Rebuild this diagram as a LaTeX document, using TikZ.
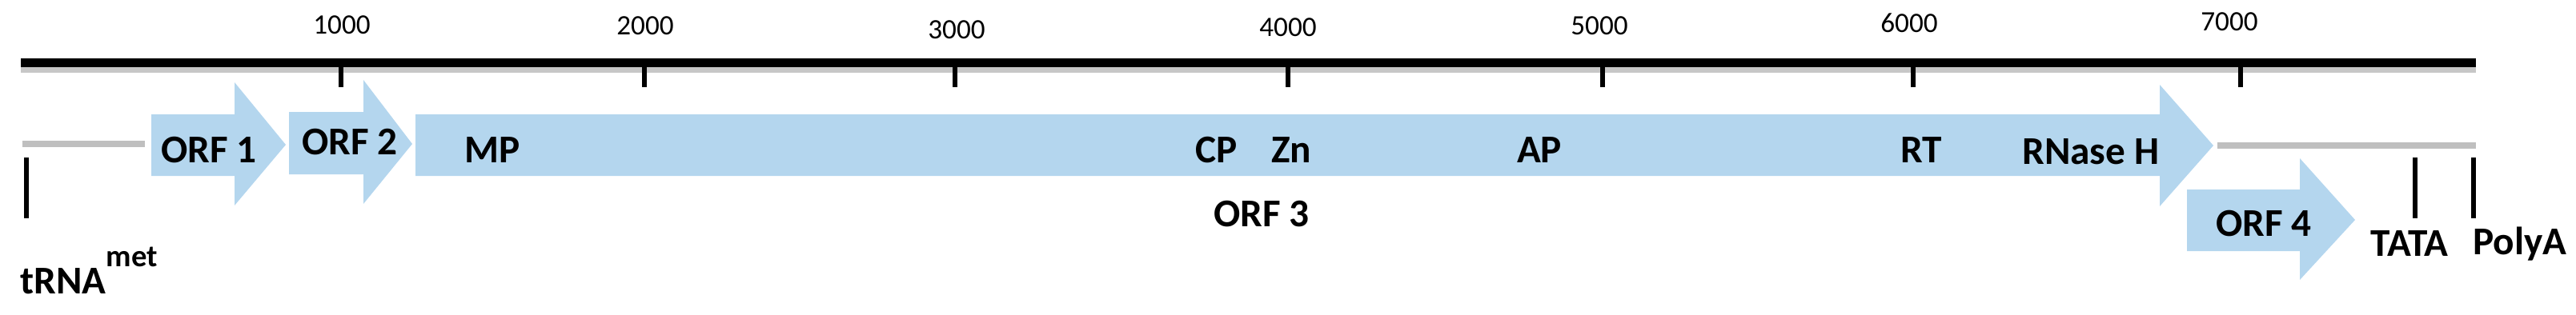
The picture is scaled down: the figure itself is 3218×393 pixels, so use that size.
\documentclass[tikz,border=0pt]{standalone}
\usepackage{fontspec}
\setmainfont{Carlito}

\definecolor{orfblue}{RGB}{180,214,238}
\definecolor{spacergray}{RGB}{191,191,191}

\tikzset{
  orf/.style={fill=orfblue},
  lbl/.style={font=\fontsize{14}{16}\selectfont\bfseries, anchor=base, inner sep=0pt},
  numlbl/.style={font=\fontsize{10}{12}\selectfont, anchor=base, inner sep=0pt},
  sitetick/.style={line width=1.7pt}
}

\begin{document}
\begin{tikzpicture}[x=0.01cm, y=-0.01cm]
  \useasboundingbox (0,0) rectangle (3218,393);

  % genome scale bar with its shadow
  \draw[line width=3pt, black!22] (26,86) -- (3093,86);
  \draw[line width=3.1pt] (26,78.5) -- (3093,78.5);
  \foreach \x/\lx/\ly/\n in {426/427/42/1000, 805/806/43/2000, 1193/1195/48/3000,
      1609/1609/45/4000, 2002/1998/43/5000, 2390/2385/40/6000, 2799/2785/38/7000}{
    \draw[line width=1.7pt] (\x,84) -- (\x,109);
    \node[numlbl] (n\n) at (\lx,\ly) {\n};
  }

  % non-coding stretches at both ends
  \draw[spacergray, line width=2.5pt] (28,180) -- (181,180);
  \draw[spacergray, line width=2.5pt] (2770,182) -- (3093,182);

  % open reading frames
  \fill[orf] (189,143) -- (293,143) -- (293,103) -- (357,181) -- (293,257) -- (293,220) -- (189,220) -- cycle;
  \fill[orf] (361,140) -- (454,140) -- (454,100) -- (515,180) -- (454,255) -- (454,218) -- (361,218) -- cycle;
  \fill[orf] (519,143) -- (2698,143) -- (2698,106) -- (2765,182) -- (2698,258) -- (2698,220) -- (519,220) -- cycle;
  \fill[orf] (2732,237) -- (2873,237) -- (2873,198) -- (2942,275) -- (2873,350) -- (2873,314) -- (2732,314) -- cycle;

  \node[lbl] (orf1) at (261,203) {ORF 1};
  \node[lbl] (orf2) at (437,193) {ORF 2};
  \node[lbl] (mp)   at (615,203) {MP};
  \node[lbl] (cp)   at (1520,203) {CP};
  \node[lbl] (zn)   at (1613,203) {Zn};
  \node[lbl] (ap)   at (1923,203) {AP};
  \node[lbl] (rt)   at (2400,203) {RT};
  \node[lbl] (rnh)  at (2612,205) {RNase H};
  \node[lbl] (orf3) at (1576,283) {ORF 3};
  \node[lbl] (orf4) at (2828,295) {ORF 4};

  % sites: primer binding, promoter, polyadenylation
  \draw[sitetick] (33,197) -- (33,273);
  \draw[sitetick] (3017,197) -- (3017,273);
  \draw[sitetick] (3090,197) -- (3090,273);
  \node[lbl, anchor=base west] (trna) at (25,367) {tRNA\raisebox{9.6pt}{\fontsize{11}{13}\selectfont met}};
  \node[lbl] (tata)  at (3010,320) {TATA};
  \node[lbl] (polya) at (3148,318) {PolyA};

\end{tikzpicture}
\end{document}
